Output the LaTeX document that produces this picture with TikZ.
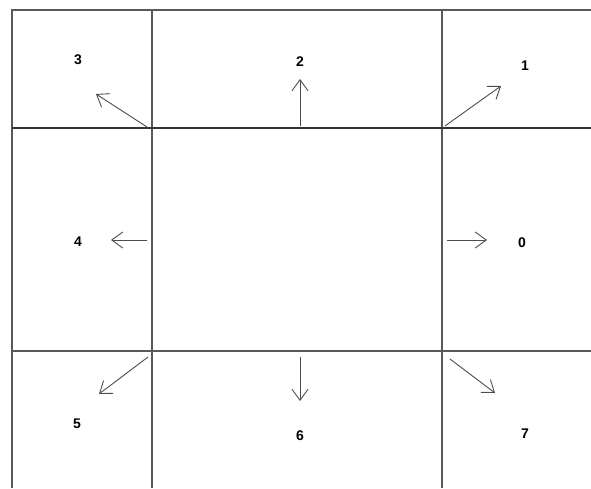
\documentclass[tikz,border=0pt]{standalone}
\usepackage{fontspec}
\setmainfont{Liberation Sans}
\usetikzlibrary{arrows.meta}
\begin{document}
\begin{tikzpicture}[x=1pt,y=-1pt,
  gridline/.style={draw=black!65,line width=1.3pt},
  heavyline/.style={draw=black!80,line width=2pt},
  dirarrow/.style={draw=black!70,line width=0.9pt,-{Straight Barb[length=11pt,width=16pt,line width=0.9pt]}},
  lbl/.style={font=\bfseries\fontsize{14}{14}\selectfont,inner sep=0pt}]
\useasboundingbox (0,0) rectangle (591,488);
% grid
\draw[gridline] (12,488) -- (12,10) -- (591,10);
\draw[gridline] (152,10) -- (152,488);
\draw[gridline] (442,10) -- (442,488);
\draw[heavyline] (12,128) -- (591,128);
\draw[gridline] (12,351) -- (591,351);
% labels
\node[lbl] (l0) at (522,243) {0};
\node[lbl] (l1) at (525,66) {1};
\node[lbl] (l2) at (300,62) {2};
\node[lbl] (l3) at (78,60) {3};
\node[lbl] (l4) at (78,242) {4};
\node[lbl] (l5) at (77,424) {5};
\node[lbl] (l6) at (300,436) {6};
\node[lbl] (l7) at (525,434) {7};
% arrow coordinates
\coordinate (s0) at (447,240); \coordinate (e0) at (487,240);
\coordinate (s1) at (445,126); \coordinate (e1) at (501,86);
\coordinate (s2) at (300,126); \coordinate (e2) at (300,79);
\coordinate (s3) at (147,127); \coordinate (e3) at (96,94);
\coordinate (s4) at (147,240); \coordinate (e4) at (111,240);
\coordinate (s5) at (148,357); \coordinate (e5) at (99,394);
\coordinate (s6) at (300,357); \coordinate (e6) at (300,401);
\coordinate (s7) at (450,359); \coordinate (e7) at (495,393);
\foreach \i in {0,...,7} \draw[dirarrow] (s\i) -- (e\i);
\end{tikzpicture}
\end{document}
